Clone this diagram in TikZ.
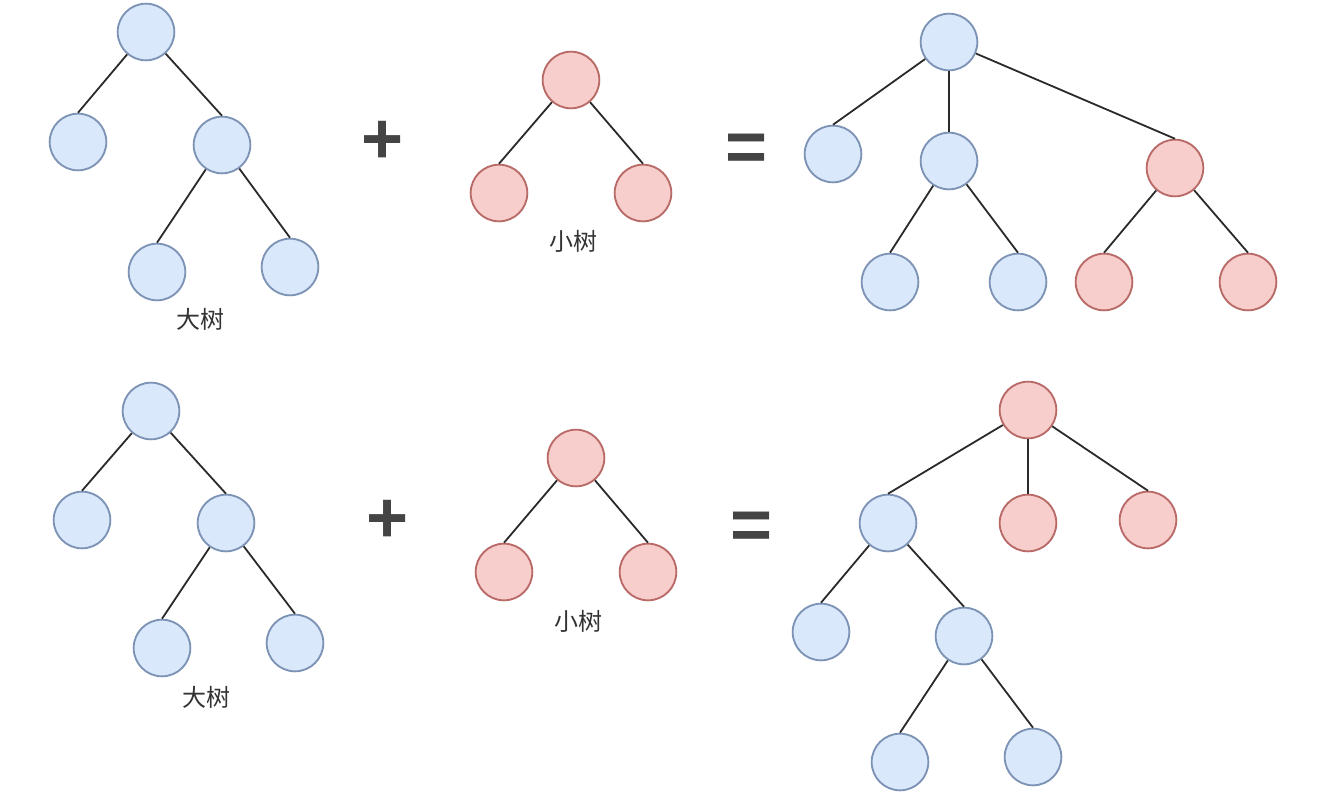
\documentclass[tikz,border=0pt]{standalone}
\usepackage{fontspec}
\setmainfont{Liberation Sans}
\newfontfamily\cjk{Noto Sans CJK SC}
\begin{document}
\begin{tikzpicture}[x=0.75pt,y=-0.75pt,
  nd/.style={circle,minimum size=42.5pt,inner sep=0pt,line width=1.4pt},
  bl/.style={nd,draw=blueline,fill=bluefill},
  rd/.style={nd,draw=redline,fill=redfill},
  edge/.style={draw=edgecol,line width=1.35pt},
  lbl/.style={font=\cjk\fontsize{18pt}{20pt}\selectfont,text=labelcol,inner sep=0pt},
  op/.style={font=\bfseries\fontsize{54pt}{60pt}\selectfont,text=opcol,inner sep=0pt}]
\definecolor{bluefill}{HTML}{DAE8FC}
\definecolor{blueline}{HTML}{7D93B5}
\definecolor{redfill}{HTML}{F8CECC}
\definecolor{redline}{HTML}{B86A67}
\definecolor{edgecol}{HTML}{2A2A2A}
\definecolor{labelcol}{HTML}{333333}
\definecolor{opcol}{HTML}{444444}
\useasboundingbox[fill=white] (0,0) rectangle (1325,800);

% ---- top row: big tree
\node[bl] (A1) at (146,32) {};
\node[bl] (A2) at (78,142) {};
\node[bl] (A3) at (222,145) {};
\node[bl] (A4) at (157,272) {};
\node[bl] (A5) at (290,267) {};
\node[lbl] (LA) at (200,319) {大树};
\path[edge] (A1) -- (A2.north);
\path[edge] (A1) -- (A3.north);
\path[edge] (A3) -- (A4.north);
\path[edge] (A3) -- (A5.north);

\node[op] (P1) at (383,142) {+};

% ---- top row: small tree
\node[rd] (B1) at (571,80) {};
\node[rd] (B2) at (499,193) {};
\node[rd] (B3) at (643,193) {};
\node[lbl] (LB) at (573,241) {小树};
\path[edge] (B1) -- (B2.north);
\path[edge] (B1) -- (B3.north);

\node[op] (Q1) at (747,153) {=};

% ---- top row: result
\node[bl] (C1) at (949,42) {};
\node[bl] (C2) at (833,154) {};
\node[bl] (C3) at (949,161) {};
\node[rd] (C4) at (1175,168) {};
\node[bl] (C5) at (890,282) {};
\node[bl] (C6) at (1018,282) {};
\node[rd] (C7) at (1104,282) {};
\node[rd] (C8) at (1248,282) {};
\path[edge] (C1) -- (C2.north);
\path[edge] (C1) -- (C3.north);
\path[edge] (C1) -- (C4.north);
\path[edge] (C3) -- (C5.north);
\path[edge] (C3) -- (C6.north);
\path[edge] (C4) -- (C7.north);
\path[edge] (C4) -- (C8.north);

% ---- bottom row: big tree
\node[bl] (D1) at (151,411) {};
\node[bl] (D2) at (82,520) {};
\node[bl] (D3) at (226,523) {};
\node[bl] (D4) at (162,648) {};
\node[bl] (D5) at (295,643) {};
\node[lbl] (LD) at (206,697) {大树};
\path[edge] (D1) -- (D2.north);
\path[edge] (D1) -- (D3.north);
\path[edge] (D3) -- (D4.north);
\path[edge] (D3) -- (D5.north);

\node[op] (P2) at (388,521) {+};

% ---- bottom row: small tree
\node[rd] (E1) at (576,458) {};
\node[rd] (E2) at (504,572) {};
\node[rd] (E3) at (648,572) {};
\node[lbl] (LE) at (578,621) {小树};
\path[edge] (E1) -- (E2.north);
\path[edge] (E1) -- (E3.north);

\node[op] (Q2) at (752,531) {=};

% ---- bottom row: result
\node[rd] (F1) at (1028,410) {};
\node[bl] (F2) at (888,523) {};
\node[rd] (F3) at (1028,523) {};
\node[rd] (F4) at (1148,520) {};
\node[bl] (F5) at (821,632) {};
\node[bl] (F6) at (964,636) {};
\node[bl] (F7) at (900,762) {};
\node[bl] (F8) at (1033,757) {};
\path[edge] (F1) -- (F2.north);
\path[edge] (F1) -- (F3.north);
\path[edge] (F1) -- (F4.north);
\path[edge] (F2) -- (F5.north);
\path[edge] (F2) -- (F6.north);
\path[edge] (F6) -- (F7.north);
\path[edge] (F6) -- (F8.north);
\end{tikzpicture}
\end{document}
